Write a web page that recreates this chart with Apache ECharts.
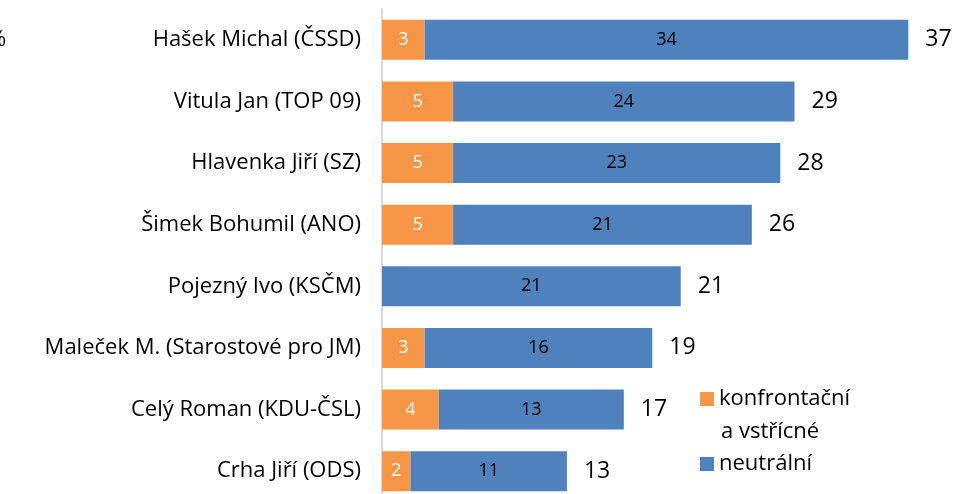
<!DOCTYPE html>
<html>
<head>
<meta charset="utf-8">
<script src="https://cdn.jsdelivr.net/npm/echarts@6/dist/echarts.min.js"></script>
<style>
  html, body { margin: 0; padding: 0; background: #fff; }
  #chart { width: 955px; height: 494px; }
</style>
</head>
<body>
<div id="chart"></div>
<script>
const candidates = [
  'Hašek Michal (ČSSD)',
  'Vitula Jan (TOP 09)',
  'Hlavenka Jiří (SZ)',
  'Šimek Bohumil (ANO)',
  'Pojezný Ivo (KSČM)',
  'Maleček M. (Starostové pro JM)',
  'Celý Roman (KDU-ČSL)',
  'Crha Jiří (ODS)'
];
const confrontational = [3, 5, 5, 5, 0, 3, 4, 2];
const neutral = [34, 24, 23, 21, 21, 16, 13, 11];
const totals = [37, 29, 28, 26, 21, 19, 17, 13];

const font = '"Open Sans", sans-serif';
const chart = echarts.init(document.getElementById('chart'));

chart.setOption({
  animation: false,
  textStyle: { fontFamily: font },
  grid: { left: 382, right: 4, top: 9, height: 493, outerBoundsMode: 'none' },
  legend: {
    orient: 'vertical',
    left: 695,
    top: 382,
    itemWidth: 14,
    itemHeight: 14,
    itemGap: 41,
    icon: 'rect',
    data: ['konfrontační a vstřícné', 'neutrální'],
    formatter: name => name === 'neutrální' ? name : 'konfrontační',
    textStyle: { fontFamily: font, fontSize: 22, color: '#000', lineHeight: 24 }
  },
  graphic: [
    { type: 'text', left: 721, top: 421, style: { text: 'a vstřícné', font: '22px ' + font, fill: '#000' } },
    { type: 'text', left: -12, top: 29, style: { text: '%', font: '22px ' + font, fill: '#000' } }
  ],
  xAxis: { type: 'value', min: 0, max: 40, show: false },
  yAxis: {
    type: 'category',
    inverse: true,
    data: candidates,
    axisTick: { show: false },
    axisLine: { lineStyle: { color: '#d9d9d9', width: 2 } },
    axisLabel: { fontFamily: font, fontSize: 22, color: '#000', margin: 21 }
  },
  series: [
    {
      name: 'konfrontační a vstřícné',
      type: 'bar',
      stack: 'total',
      barWidth: 40,
      data: confrontational,
      itemStyle: { color: '#F79646' },
      label: {
        show: true,
        position: 'inside',
        color: '#fff',
        fontSize: 18,
        fontFamily: font,
        formatter: p => p.value ? p.value : ''
      }
    },
    {
      name: 'neutrální',
      type: 'bar',
      stack: 'total',
      barWidth: 40,
      data: neutral,
      itemStyle: { color: '#4F81BD' },
      label: { show: true, position: 'inside', color: '#000', fontSize: 18, fontFamily: font }
    },
    {
      name: 'celkem',
      type: 'bar',
      barWidth: 40,
      barGap: '-100%',
      data: totals,
      silent: true,
      itemStyle: { color: 'rgba(0,0,0,0)' },
      label: { show: true, position: 'right', distance: 17, color: '#000', fontSize: 23, fontFamily: font }
    }
  ]
});
</script>
</body>
</html>
